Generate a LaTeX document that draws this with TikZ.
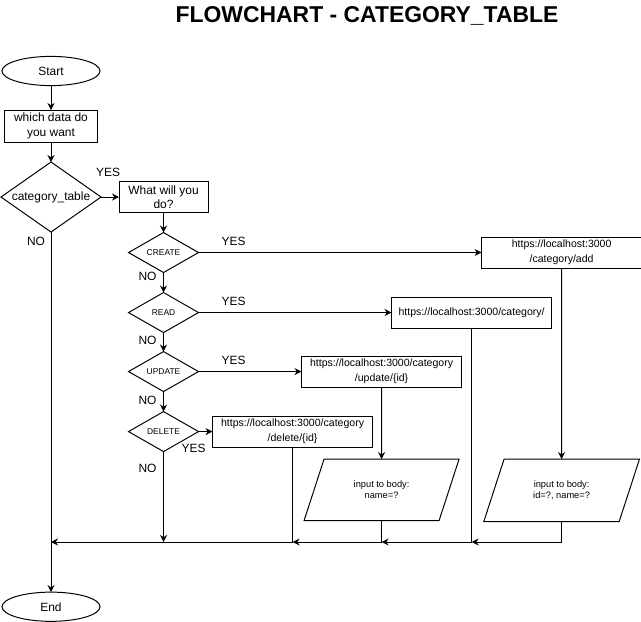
\documentclass[tikz,border=0pt]{standalone}
\usepackage{fontspec}
\setmainfont{Liberation Sans}
\usetikzlibrary{arrows.meta,positioning,shapes.geometric}
\tikzset{
  terminal/.style={ellipse,draw,line width=0.7pt,minimum width=2.45cm,
    minimum height=0.73cm,inner sep=0pt,outer sep=0pt,
    font=\fontsize{8.5}{10.2}\selectfont},
  process/.style={rectangle,draw,line width=0.7pt,minimum height=0.8cm,
    align=flush center,inner sep=0pt,outer sep=0pt,
    font=\fontsize{8.5}{10.2}\selectfont},
  decision/.style={diamond,draw,line width=0.7pt,inner sep=0pt,outer sep=0pt,
    aspect=1.4,font=\fontsize{8.5}{10.2}\selectfont},
  choice/.style={decision,minimum width=1.75cm,minimum height=1cm,
    font=\fontsize{6}{7}\selectfont},
  urlbox/.style={process,minimum width=4cm,minimum height=0.775cm,
    text width=4cm,font=\fontsize{7.5}{10.5}\selectfont},
  data/.style={trapezium,trapezium left angle=72,trapezium right angle=108,
    draw,line width=0.7pt,text width=2.875cm,align=flush center,outer sep=0pt,
    inner xsep=0pt,inner ysep=15.5pt,font=\fontsize{6.6}{7.9}\selectfont},
  lbl/.style={font=\fontsize{8.5}{10.2}\selectfont,inner sep=0pt},
  arrow/.style={-{Stealth[length=5pt,width=5pt]},line width=0.7pt}
}

\begin{document}
\begin{tikzpicture}[x=0.025cm,y=-0.025cm]
  \useasboundingbox (0,0) rectangle (641,622);
  \node[font=\bfseries\fontsize{16.3}{19}\selectfont] (title) at (367,16) {FLOWCHART - CATEGORY\_TABLE};
  % main column
  \node[terminal] (start) at (51,71) {Start};
  \node[process,below=0.61cm of start,text width=2.3cm] (which) {which data do you want};
  \node[decision,below=0.5cm of which,minimum width=2.5cm,minimum height=1.75cm] (cat) {category\_table};
  \node[process,right=0.45cm of cat,minimum height=0.775cm,text width=2.225cm] (what) {What will you do?};
  \node[terminal,below=9cm of cat] (stop) {End};
  % actions
  \node[choice,below=0.5cm of what] (create) {CREATE};
  \node[choice,below=0.5cm of create] (read) {READ};
  \node[choice,below=0.475cm of read] (update) {UPDATE};
  \node[choice,below=0.5cm of update] (delete) {DELETE};
  \node[urlbox,right=7.075cm of create] (addb) {https://localhost:3000\\/category/add};
  \node[urlbox,right=4.825cm of read] (readb) {https://localhost:3000/category/};
  \node[urlbox,right=2.575cm of update] (updb) {https://localhost:3000/category\\/update/\{id\}};
  \node[urlbox,right=0.35cm of delete] (delb) {https://localhost:3000/category\\/delete/\{id\}};
  \node[data,below=1.8cm of updb] (namein) {input to body:\\name=?};
  \node[data,below=4.775cm of addb] (idin) {input to body:\\id=?, name=?};
  \coordinate (bus) at (0,542);
  % connectors
  \draw[arrow] (start) -- (which);
  \draw[arrow] (which) -- (cat);
  \draw[arrow] (cat) -- node[lbl,pos=0,shift={(7,-25)}]{YES} (what);
  \draw[arrow] (cat) -- node[lbl,pos=0,shift={(-15,9)}]{NO} (stop);
  \draw[arrow] (what) -- (create);
  \draw[arrow] (create) -- node[lbl,pos=0,shift={(35,-11)}]{YES} (addb);
  \draw[arrow] (create) -- node[lbl,pos=0,shift={(-16,4)}]{NO} (read);
  \draw[arrow] (read) -- node[lbl,pos=0,shift={(35,-11)}]{YES} (readb);
  \draw[arrow] (read) -- node[lbl,pos=0,shift={(-16,8)}]{NO} (update);
  \draw[arrow] (update) -- node[lbl,pos=0,shift={(35,-11)}]{YES} (updb);
  \draw[arrow] (update) -- node[lbl,pos=0,shift={(-16,9)}]{NO} (delete);
  \draw[arrow] (delete) -- node[lbl,pos=0,shift={(-5,17)}]{YES} (delb);
  \draw[arrow] (delete) -- node[lbl,pos=0,shift={(-16,17)}]{NO} (delete.south |- bus);
  \draw[arrow] (updb) -- (namein);
  \draw[arrow] (addb) -- (idin);
  \draw[arrow] (idin.south) |- (readb.south |- bus);
  \draw[arrow] (readb.south) |- (namein.south |- bus);
  \draw[arrow] (namein.south) |- (delb.south |- bus);
  \draw[arrow] (delb.south) |- (stop.north |- bus);
\end{tikzpicture}
\end{document}
